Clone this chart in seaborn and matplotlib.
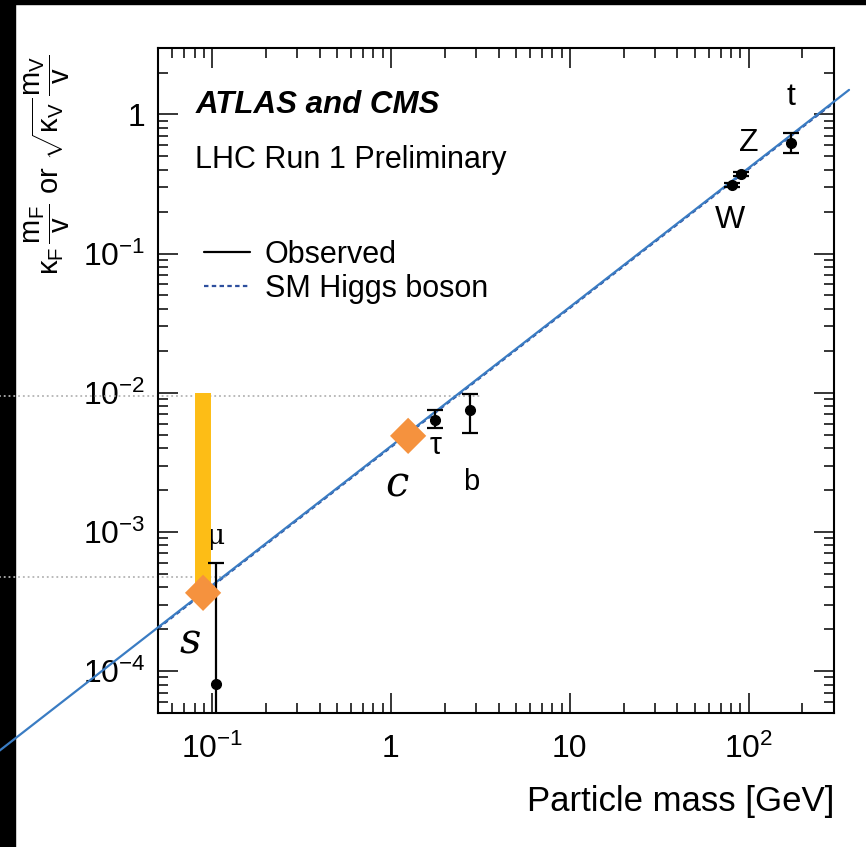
import numpy as np
import pandas as pd
import matplotlib
matplotlib.use('Agg')
import matplotlib.pyplot as plt
from matplotlib.lines import Line2D
from matplotlib.patches import Rectangle
import seaborn as sns

# particle masses [GeV] and reduced couplings
particles = ['μ', 'τ', 'b', 'W', 'Z', 't']
mass = [0.1057, 1.777, 2.76, 80.4, 91.19, 172.5]
coupling = [8.1e-5, 6.4e-3, 7.5e-3, 0.311, 0.373, 0.62]
err_low = [7.5e-5, 0.8e-3, 2.4e-3, 0.012, 0.012, 0.09]
err_high = [5.2e-4, 1.1e-3, 2.3e-3, 0.012, 0.012, 0.11]

# light quarks (orange diamonds) and the s-quark band
quarks = ['s', 'c']
quark_mass = [0.0893, 1.25]
quark_y = [3.65e-4, 4.9e-3]
band_low = 3.8e-4
band_high = 1.0e-2

# SM line end points
sm_mass = [0.05, 300.0]
sm_y = [2.03e-4, 1.218]
fit_mass = [6.5e-3, 364.0]
fit_y = [2.68e-5, 1.50]

# dotted guide lines
guide_y = [9.4e-3, 4.78e-4]
guide_x0 = [6.5e-3, 6.5e-3]
guide_x1 = [3.16, 0.122]

xticks = [0.1, 1, 10, 100]
xticklabels = [r'$10^{-1}$', '1', '10', r'$10^{2}$']
yticks = [1e-4, 1e-3, 1e-2, 1e-1, 1]
yticklabels = [r'$10^{-4}$', r'$10^{-3}$', r'$10^{-2}$', r'$10^{-1}$', '1']

sns.set_theme(style='ticks')
plt.rcParams['font.family'] = ['Liberation Sans', 'DejaVu Sans']
plt.rcParams['mathtext.fontset'] = 'custom'
plt.rcParams['mathtext.rm'] = 'Liberation Sans'
plt.rcParams['mathtext.it'] = 'Liberation Sans'
plt.rcParams['mathtext.bf'] = 'Liberation Sans:bold'
for k in ['text.color', 'axes.labelcolor', 'xtick.color', 'ytick.color',
          'axes.edgecolor']:
    plt.rcParams[k] = 'black'

fig = plt.figure(figsize=(8.66, 8.47), dpi=100, facecolor='white')
ax = fig.add_axes([158/866, 1-713/847, 676/866, 665/847])

# black strips of the screenshot
fig.patches.append(Rectangle((0, 0), 15/866, 1, transform=fig.transFigure,
                             color='black', zorder=-5))
fig.patches.append(Rectangle((0, 1-4/847), 1, 4/847, transform=fig.transFigure,
                             color='black', zorder=-5))

for y, x0, x1 in zip(guide_y, guide_x0, guide_x1):
    ax.plot([x0, x1], [y, y], ls=':', color='#b4b4b4', lw=1.3, clip_on=False, zorder=1)

sm = pd.DataFrame({'mass': sm_mass, 'y': sm_y})
sns.lineplot(data=sm, x='mass', y='y', ax=ax, color='#2d4f9e', lw=1.6,
             linestyle=(0, (2, 1.5)), zorder=2)
ax.plot(fit_mass, fit_y, color='#3a7cc3', lw=1.6, clip_on=False, zorder=3)

ax.vlines(quark_mass[0], band_low, band_high, color='#fdbd16', lw=11.5,
          zorder=4)

ax.errorbar(mass, coupling, yerr=[err_low, err_high], fmt='o', color='black',
            ms=7, elinewidth=1.6, capsize=5.5, capthick=1.6, zorder=5)

qd = pd.DataFrame({'mass': quark_mass, 'y': quark_y})
sns.scatterplot(data=qd, x='mass', y='y', ax=ax, marker='D', s=340,
                color='#f5923e', edgecolor='none', zorder=6)

ax.set_xscale('log')
ax.set_yscale('log')
ax.set_xlim(0.05, 300)
ax.set_ylim(5e-5, 3)
ax.set_xticks(xticks)
ax.set_xticklabels(xticklabels)
ax.set_yticks(yticks)
ax.set_yticklabels(yticklabels)
ax.tick_params(which='both', direction='in', top=True, right=True, width=1.1,
               color='black')
ax.tick_params(which='major', length=14.4, labelsize=23)
ax.tick_params(which='minor', length=7.2)
ax.tick_params(axis='x', which='major', pad=15)
ax.tick_params(axis='y', which='major', pad=9)
for s in ax.spines.values():
    s.set_linewidth(1.5)
    s.set_color('black')
ax.set_xlabel('Particle mass [GeV]', fontsize=25, loc='right', labelpad=14,
              color='black')
ax.set_ylabel('')

fig.text(47/866, 1-165/847,
         r'$\kappa_{F}\,\dfrac{m_{F}}{v}$ or $\sqrt{\kappa_{V}}\,\dfrac{m_{V}}{v}$',
         rotation=90, ha='center', va='center', fontsize=21, color='black')

ax.text(0.055, 0.902, 'ATLAS and CMS', transform=ax.transAxes, fontsize=22.5,
        fontweight='bold', fontstyle='italic', color='black')
ax.text(0.055, 0.820, 'LHC Run 1 Preliminary', transform=ax.transAxes,
        fontsize=22, color='black')

handles = [Line2D([], [], color='black', lw=1.6),
           Line2D([], [], color='#2d4f9e', lw=1.6, ls=(0, (2, 1.5)))]
ax.legend(handles, ['Observed', 'SM Higgs boson'], loc='upper left',
          bbox_to_anchor=(0.045, 0.735), frameon=False, fontsize=22,
          handlelength=1.5, handletextpad=0.5, labelspacing=0.15, borderpad=0)

# particle labels, offsets in points from the marker
label_offsets = {'μ': (0, 106), 'τ': (0, -19), 'b': (1, -52), 'W': (-1, -25),
                 'Z': (5, 22), 't': (0, 33)}
label_sizes = {'μ': 20, 'τ': 22, 'b': 21, 'W': 23, 'Z': 23, 't': 23}
for p, m, c in zip(particles, mass, coupling):
    fam = 'DejaVu Serif' if p == 'μ' else 'Liberation Sans'
    ax.annotate(p, (m, c), xytext=label_offsets[p], textcoords='offset points',
                ha='center', va='center', fontsize=label_sizes[p], family=fam,
                color='black')
quark_offsets = {'s': (-9, -35), 'c': (-8, -35)}
for q, m, y in zip(quarks, quark_mass, quark_y):
    ax.annotate(q, (m, y), xytext=quark_offsets[q], textcoords='offset points',
                ha='center', va='center', fontsize=30, family='DejaVu Serif',
                fontstyle='italic', color='black')

fig.savefig('out.png', dpi=100, facecolor='white')
